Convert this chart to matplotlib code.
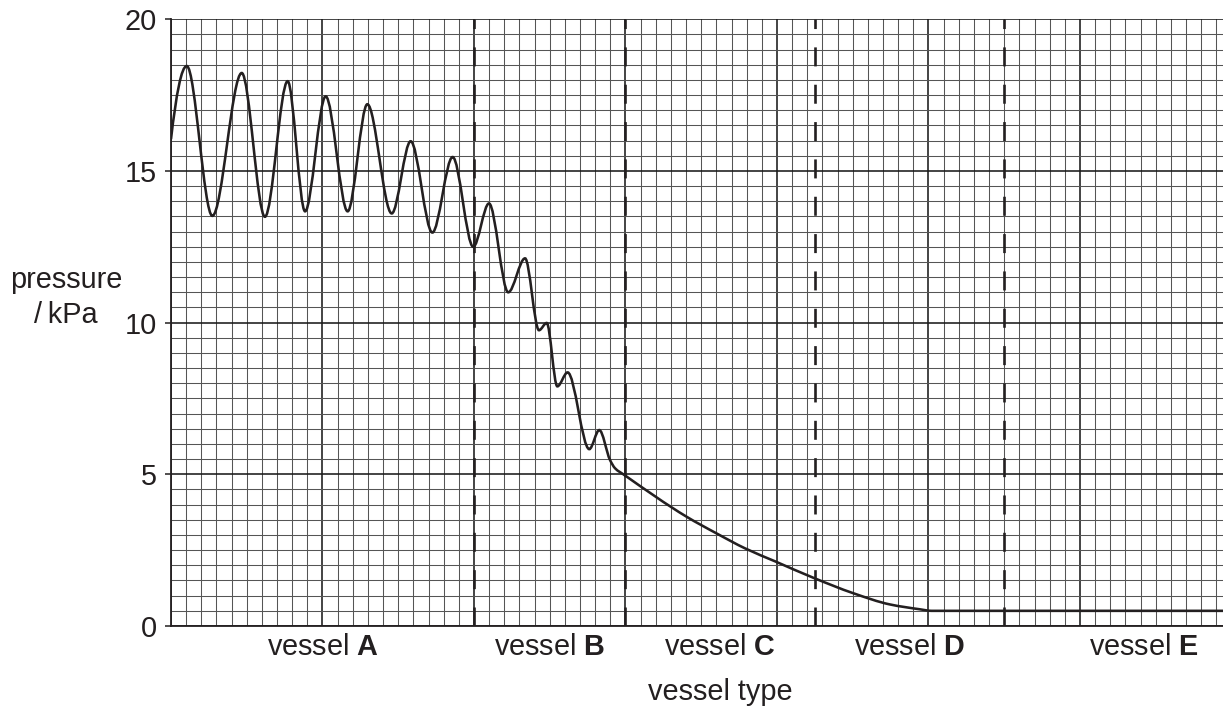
import numpy as np
import matplotlib
matplotlib.use('Agg')
import matplotlib.pyplot as plt
from matplotlib.path import Path
from matplotlib.patches import PathPatch

# trace: distance along the vessels (in small grid squares) and pressure / kPa
dist = [0.0, 1.04, 2.73, 4.67, 6.2, 7.7, 8.85, 10.21, 11.66, 12.96,
        14.57, 15.82, 17.25, 18.59, 19.95, 20.99, 22.26, 23.37, 24.29, 24.8,
        25.5, 26.18, 27.61, 28.27, 28.98, 29.31, 29.92, 34.04, 36.02, 37.89,
        39.93, 42.4, 45.04, 47.46, 49.44, 50.2, 69.5]
pressure = [16.05, 18.46, 13.52, 18.23, 13.49, 17.96, 13.67, 17.46, 13.67, 17.2,
            13.6, 15.98, 12.97, 15.46, 12.5, 13.93, 11.0, 12.12, 9.75, 9.99,
            7.9, 8.36, 5.83, 6.46, 5.47, 5.2, 4.98, 3.6, 3.05, 2.56,
            2.12, 1.59, 1.08, 0.71, 0.55, 0.5, 0.5]

# dashed borders between vessel types
boundaries = [20, 30, 42.5, 55]
vessels = ['A', 'B', 'C', 'D', 'E']
vessel_x = [10, 25, 36.25, 48.75, 64.2]
y_ticks = [0, 5, 10, 15, 20]

x_max = 69.44
ink = '#231f20'
fs = 20.8

plt.rcParams['font.family'] = ['Liberation Sans', 'DejaVu Sans']
plt.rcParams['mathtext.fontset'] = 'custom'
plt.rcParams['mathtext.rm'] = 'Liberation Sans'
plt.rcParams['mathtext.bf'] = 'Liberation Sans:bold'


def smooth_path(x, y):
    # monotone cubic (pchip style) through the read points, drawn as bezier segments
    x = np.asarray(x, float)
    y = np.asarray(y, float)
    h = np.diff(x)
    delta = np.diff(y) / h
    d = np.zeros_like(y)
    for k in range(1, len(x) - 1):
        if delta[k - 1] * delta[k] > 0:
            w1 = 2 * h[k] + h[k - 1]
            w2 = h[k] + 2 * h[k - 1]
            d[k] = (w1 + w2) / (w1 / delta[k - 1] + w2 / delta[k])

    def end_slope(h0, h1, d0, d1):
        s = ((2 * h0 + h1) * d0 - h0 * d1) / (h0 + h1)
        if np.sign(s) != np.sign(d0):
            return 0.0
        if np.sign(d0) != np.sign(d1) and abs(s) > 3 * abs(d0):
            return 3 * d0
        return s

    d[0] = end_slope(h[0], h[1], delta[0], delta[1])
    d[-1] = end_slope(h[-1], h[-2], delta[-1], delta[-2])

    verts = [(x[0], y[0])]
    codes = [Path.MOVETO]
    for k in range(len(h)):
        verts.append((x[k] + h[k] / 3, y[k] + d[k] * h[k] / 3))
        verts.append((x[k + 1] - h[k] / 3, y[k + 1] - d[k + 1] * h[k] / 3))
        verts.append((x[k + 1], y[k + 1]))
        codes += [Path.CURVE4] * 3
    return Path(verts, codes)


fig = plt.figure(figsize=(12.23, 7.13), dpi=100)
ax = fig.add_axes([171 / 1223, 1 - 626 / 713, 1 - 171 / 1223, (626 - 19.3) / 713])

ax.set_xlim(0, x_max)
ax.set_ylim(y_ticks[0], y_ticks[-1])

# graph paper
ax.set_xticks(np.arange(0, x_max, 10))
ax.set_xticks(np.arange(0, x_max, 1), minor=True)
ax.set_yticks(y_ticks)
ax.set_yticks(np.arange(0, 20.01, 0.5), minor=True)
ax.grid(which='minor', color='#555555', linewidth=0.75)
ax.grid(which='major', color='#1a1a1a', linewidth=1.15)
ax.set_axisbelow(True)

ax.tick_params(axis='x', which='both', length=0, labelbottom=False)
ax.tick_params(axis='y', which='minor', length=0)
ax.tick_params(axis='y', which='major', length=4, width=1.1, pad=6,
               labelsize=fs, colors=ink)

for side in ['top', 'right']:
    ax.spines[side].set_visible(False)
for side in ['left', 'bottom']:
    ax.spines[side].set_linewidth(1.3)
    ax.spines[side].set_color(ink)

# vessel borders, dashes start at the bottom
for b in boundaries:
    ax.plot([b, b], [y_ticks[0], y_ticks[-1]], color=ink, linewidth=1.9,
            dashes=(7.2, 6.95), dash_capstyle='butt', zorder=3)

ax.add_patch(PathPatch(smooth_path(dist, pressure), facecolor='none',
                       edgecolor=ink, linewidth=1.85, zorder=4))

for name, xpos in zip(vessels, vessel_x):
    ax.text(xpos, -0.048, 'vessel $\\mathbf{' + name + '}$', transform=ax.get_xaxis_transform(),
            ha='center', va='baseline', fontsize=fs, color=ink)

fig.text(720.5 / 1223, 1 - 700 / 713, 'vessel type', ha='center', va='baseline',
         fontsize=fs, color=ink)
fig.text(66 / 1223, 1 - 288 / 713, 'pressure', ha='center', va='baseline',
         fontsize=fs, color=ink)
fig.text(66 / 1223, 1 - 323 / 713, '/\u2009kPa', ha='center', va='baseline',
         fontsize=fs, color=ink)

fig.savefig('out.png', dpi=100, facecolor='white')
